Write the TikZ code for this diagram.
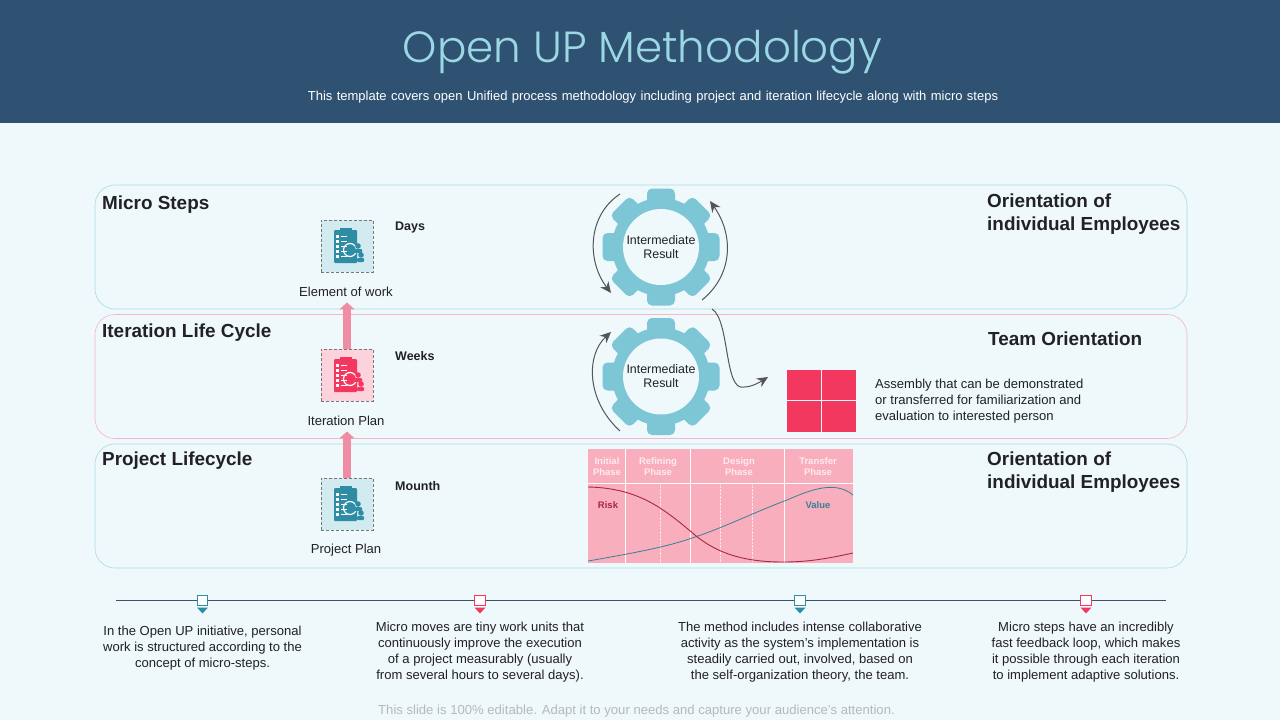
\documentclass[tikz,border=0pt]{standalone}
\usepackage{fontspec}
\setmainfont{Liberation Sans}
\newfontfamily\titlefont{Poppins Light}
\usetikzlibrary{arrows.meta, calc}
\definecolor{fondo}{RGB}{239,248,251}
\definecolor{banda}{RGB}{47,82,114}
\definecolor{titulo}{RGB}{155,216,228}
\definecolor{turquesa}{RGB}{124,198,214}
\definecolor{bordeazul}{RGB}{168,220,230}
\definecolor{bordeRosa}{RGB}{242,184,198}
\definecolor{rosa}{RGB}{242,56,94}
\definecolor{rosaclaro}{RGB}{249,174,190}
\definecolor{flechaRosa}{RGB}{240,140,163}
\definecolor{azulicono}{RGB}{46,140,165}
\definecolor{tinta}{RGB}{33,33,38}
\definecolor{gris}{RGB}{85,85,85}
\tikzset{
  planicon/.pic={
    \fill[pic actions, rounded corners=1pt] (-13,-16) rectangle (10,17);
    \fill[pic actions] (-7,-18) rectangle (5,-14);
    \foreach \y in {-10,-5,0,5,10} {
      \fill[white] (-11,\y-1.5) rectangle (-8,\y+1.5);
      \draw[white, line width=.6pt] (-6,\y) -- (0,\y);
    }
    \draw[white, line width=1.2pt] (3,4) circle (6.5);
    \fill[pic actions] (11,0) circle (2.8) (14,9) circle (2.8);
    \fill[pic actions, rounded corners=1pt] (7,3) rectangle (15,7) (10,12) rectangle (17,16);
  },
  gearwheel/.pic={
    \fill[turquesa] (0,0) circle (49);
    \foreach \a in {0,45,...,315}
      \fill[turquesa, rotate=\a, rounded corners=5pt] (-14,-58.5) rectangle (14,-30);
    \fill[fondo] (0,0) circle (38);
  }
}
\begin{document}
\begin{tikzpicture}[x=1pt, y=-1pt, every node/.style={inner sep=0pt, text=tinta},
  panel/.style={draw=#1, line width=.6pt, rounded corners=20pt, minimum width=1092pt, minimum height=124pt},
  heading/.style={font=\bfseries\fontsize{18.9}{23}\selectfont, anchor=west, align=left},
  body/.style={font=\fontsize{13.05}{16}\selectfont, align=center},
  period/.style={font=\bfseries\fontsize{12.5}{14}\selectfont, anchor=west},
  iconbox/.style={draw=gris!80, densely dashed, line width=.5pt, minimum size=52pt},
  upflow/.style={flechaRosa, line width=8pt, -{Triangle[length=7pt, width=15pt]}},
  turn/.style={gris, line width=1pt, -{Stealth[length=11pt, width=10pt]}},
  phase/.style={font=\bfseries\fontsize{9.5}{11}\selectfont, text=white, align=center, text opacity=.75},
  gate/.style={draw=#1, fill=white, line width=.7pt, minimum size=10.5pt}]
\useasboundingbox (0,0) rectangle (1280,720);
\fill[fondo] (0,0) rectangle (1280,720);
\fill[banda] (0,0) rectangle (1280,123);
\node[font=\titlefont\fontsize{43.6}{50}\selectfont, text=titulo] (title) at (642.5,52) {Open UP Methodology};
\node[font=\fontsize{13}{14}\selectfont, text=white] (subtitle) at (653,97.5) {\spaceskip=4.4pt This template covers open Unified process methodology including project and iteration lifecycle along with micro steps};

\node[panel=bordeazul] (microbox) at (641,247) {};
\node[panel=bordeRosa] (iterbox) at (641,376.5) {};
\node[panel=bordeazul] (projectbox) at (641,506) {};

\node[heading] (microhead) at (102,205) {Micro Steps};
\node[heading] (iterhead) at (102,333) {Iteration Life Cycle};
\node[heading] (projecthead) at (102,461) {Project Lifecycle};
\node[heading] (orienta) at (987,214.5) {Orientation of\\individual Employees};
\node[heading] (teamhead) at (988,339) {Team Orientation};
\node[heading] (orientb) at (987,472.5) {Orientation of\\individual Employees};

\node[iconbox, fill=turquesa!35] (elementicon) at (347,246) {};
\node[iconbox, fill=rosa!22] (iterationicon) at (347,375) {};
\node[iconbox, fill=turquesa!35] (projecticon) at (347,504) {};
\pic[fill=azulicono] at (elementicon) {planicon};
\pic[fill=rosa] at (iterationicon) {planicon};
\pic[fill=azulicono] at (projecticon) {planicon};
\node[body] (elementlabel) at (346,291.5) {Element of work};
\node[body] (iterationlabel) at (346,420.5) {Iteration Plan};
\node[body] (projectlabel) at (346,550.5) {Project Plan};
\node[period] (days) at (395,227.5) {Days};
\node[period] (weeks) at (395,356.5) {Weeks};
\node[period] (mounth) at (395,486.5) {Mounth};
\draw[upflow] (iterationicon.north) -- ([yshift=-6pt]elementlabel.south -| iterationicon.north);
\draw[upflow] (projecticon.north) -- ([yshift=-6pt]iterationlabel.south -| projecticon.north);

\pic at (661,247) {gearwheel};
\pic at (661,376.5) {gearwheel};
\node[body, font=\fontsize{12.4}{14}\selectfont] (gearone) at (661,247) {Intermediate\\Result};
\node[body, font=\fontsize{12.4}{14}\selectfont] (geartwo) at (661,376.5) {Intermediate\\Result};

\coordinate (a1) at (620,194);
\coordinate (a2) at (611,293);
\coordinate (b1) at (702,300);
\coordinate (b2) at (710,201);
\coordinate (c1) at (620,431);
\coordinate (c2) at (611,332);
\coordinate (d1) at (712,309);
\coordinate (d2) at (768,377);
\draw[turn] (a1) .. controls (588,215) and (586,260) .. (a2);
\draw[turn] (b1) .. controls (733,275) and (734,235) .. (b2);
\draw[turn] (c1) .. controls (586,400) and (586,355) .. (c2);
\draw[turn] (d1) .. controls (730,320) and (724,392) .. (744,387) .. controls (752,387) and (760,382) .. (d2);

\node[fill=rosa, minimum width=34pt, minimum height=30.5pt] (cella) at (804,385) {};
\node[fill=rosa, minimum width=34pt, minimum height=30.5pt] (cellb) at (839,385) {};
\node[fill=rosa, minimum width=34pt, minimum height=30.5pt] (cellc) at (804,416.5) {};
\node[fill=rosa, minimum width=34pt, minimum height=30.5pt] (celld) at (839,416.5) {};
\node[body, anchor=west, align=left] (assembly) at (875,401) {Assembly that can be demonstrated\\or transferred for familiarization and\\evaluation to interested person};

\fill[rosaclaro] (588,449) rectangle (853,563);
\foreach \x in {660,720,752}
  \draw[white, densely dotted, line width=.4pt, opacity=.7] (\x,483) -- (\x,563);
\draw[white, line width=.8pt] (588,483) -- (853,483);
\foreach \x in {625.5,690.5,784}
  \draw[white, line width=.8pt] (\x,449) -- (\x,563);
\node[phase] (initial) at (607,466.5) {Initial\\Phase};
\node[phase] (refining) at (658,466.5) {Refining\\Phase};
\node[phase] (design) at (739,466.5) {Design\\Phase};
\node[phase] (transfer) at (818,466.5) {Transfer\\Phase};
\draw[azulicono!80!gris, line width=.8pt] (588,561) .. controls (640,552) and (670,546) .. (695,537) .. controls (725,527) and (755,512) .. (787,500) .. controls (810,490) and (835,480) .. (853,495);
\draw[rosa!70!black, line width=.9pt] (588,487) .. controls (640,488) and (665,510) .. (695,535) .. controls (720,556) and (750,562) .. (783,562) .. controls (810,562) and (830,558) .. (853,553);
\node[font=\bfseries\fontsize{9.5}{11}\selectfont, text=rosa!70!black] (risk) at (608,505) {Risk};
\node[font=\bfseries\fontsize{9.5}{11}\selectfont, text=azulicono!80!gris] (value) at (818,505) {Value};

\coordinate (linestart) at (116,600.5);
\coordinate (lineend) at (1166,600.5);
\draw[banda!60!gris, line width=.8pt] (linestart) -- (lineend);
\foreach \x/\col/\nm in {202.5/azulicono/gatea, 480/rosa/gateb, 800/azulicono/gatec, 1086/rosa/gated} {
  \node[gate=\col] (\nm) at (\x,600.5) {};
  \fill[\col] (\x-5.5,607.5) -- (\x+5.5,607.5) -- (\x,613.5) -- cycle;
}
\node[body] (notea) at (202.5,648.5) {In the Open UP initiative, personal\\work is structured according to the\\concept of micro-steps.};
\node[body] (noteb) at (480,652.5) {Micro moves are tiny work units that\\continuously improve the execution\\of a project measurably (usually\\from several hours to several days).};
\node[body] (notec) at (800,652.5) {The method includes intense collaborative\\activity as the system's implementation is\\steadily carried out, involved, based on\\the self-organization theory, the team.};
\node[body] (noted) at (1086,652.5) {Micro steps have an incredibly\\fast feedback loop, which makes\\it possible through each iteration\\to implement adaptive solutions.};
\node[font=\fontsize{13.1}{14}\selectfont, text=black!28] (footer) at (636.5,711) {This slide is 100\% editable. Adapt it to your needs and capture your audience's attention.};
\end{tikzpicture}
\end{document}
